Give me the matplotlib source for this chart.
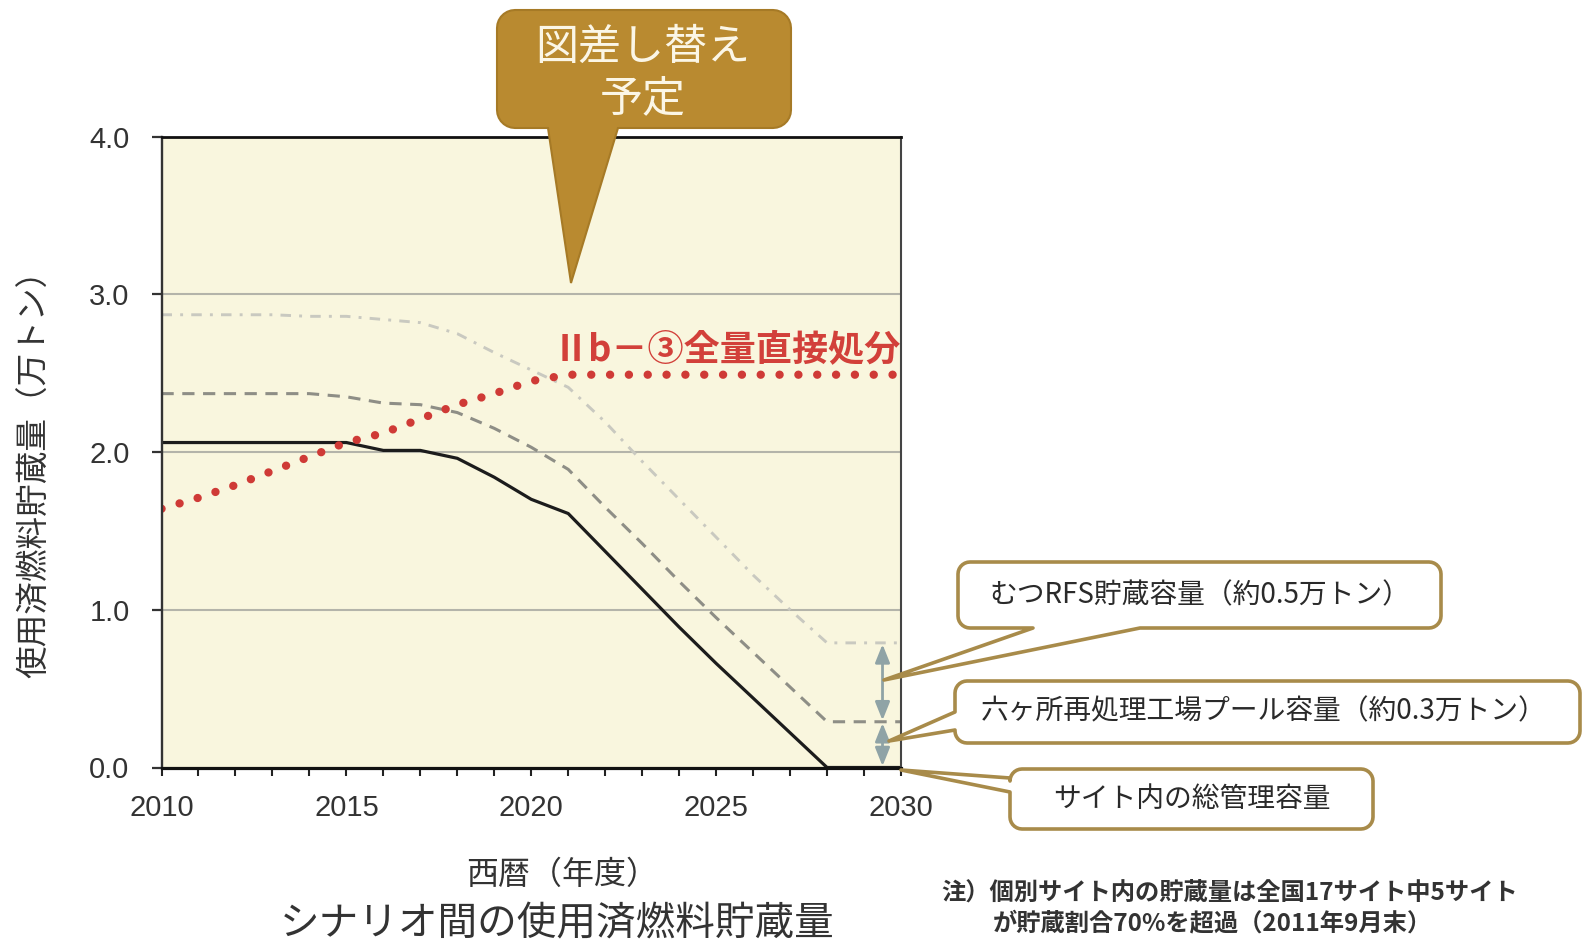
import numpy as np
import matplotlib
matplotlib.use("Agg")
import matplotlib.pyplot as plt
from matplotlib.patches import Polygon

# ---- data (万トン) ----
years = list(range(2010, 2031))
site_capacity = [2.06, 2.06, 2.06, 2.06, 2.06, 2.06, 2.01, 2.01, 1.96, 1.84, 1.70,
                 1.61, 1.37, 1.13, 0.89, 0.66, 0.44, 0.22, 0.00, 0.00, 0.00]
with_rokkasho = [2.37, 2.37, 2.37, 2.37, 2.37, 2.35, 2.31, 2.30, 2.25, 2.15, 2.03,
                 1.89, 1.65, 1.42, 1.18, 0.95, 0.73, 0.51, 0.29, 0.29, 0.29]
with_mutsu = [2.87, 2.87, 2.87, 2.87, 2.86, 2.86, 2.84, 2.82, 2.75, 2.63, 2.52,
              2.41, 2.19, 1.94, 1.70, 1.46, 1.22, 1.00, 0.79, 0.79, 0.79]
direct_disposal = [1.64, 1.71, 1.79, 1.88, 1.97, 2.06, 2.12, 2.21, 2.30, 2.37, 2.45,
                   2.49, 2.49, 2.49, 2.49, 2.49, 2.49, 2.49, 2.49, 2.49, 2.49]
yticks = [0.0, 1.0, 2.0, 3.0, 4.0]
xticks = [2010, 2015, 2020, 2025, 2030]
arrow_year = 2029.5

JP = ['Noto Sans CJK JP', 'DejaVu Sans']
NUM = ['Liberation Sans', 'DejaVu Sans']

W, H = 1582, 952
fig = plt.figure(figsize=(W / 100, H / 100), dpi=100, facecolor='white')


def fx(x):
    return x / W


def fy(y):
    return 1 - y / H


ax = fig.add_axes([fx(161.5), fy(767.5), (901 - 161.5) / W, (767.5 - 136.5) / H])
ax.set_facecolor('#f9f6de')
ax.set_xlim(2010, 2030)
ax.set_ylim(0, 4)

# gridlines
for v in yticks[1:-1]:
    ax.axhline(v, color='#b4b4aa', lw=1.5, zorder=1)

# series
ax.plot(years, with_mutsu, color='#c9c9c0', lw=2.1,
        linestyle=(0, (3.6, 2.8, 1.0, 2.8)), zorder=2)
ax.plot(years, with_rokkasho, color='#8e8e86', lw=2.2,
        linestyle=(0, (4.0, 2.8)), zorder=3)
ax.plot(years, site_capacity, color='#1c1c1c', lw=2.3, zorder=4)
ax.plot(years, direct_disposal, color='#cf3a36', lw=6.0,
        linestyle=(0, (0.01, 2.25)), dash_capstyle='round', zorder=5)

# capacity arrows at the end of the period
lo = site_capacity[-1]
mid = with_rokkasho[-1]
hi = with_mutsu[-1]
arrow_style = dict(arrowstyle='<|-|>,head_length=0.55,head_width=0.22',
                   color='#8fa3a6', lw=2.0, mutation_scale=20,
                   shrinkA=1, shrinkB=1)
ax.annotate('', xy=(arrow_year, mid), xytext=(arrow_year, hi),
            arrowprops=arrow_style, zorder=6)
ax.annotate('', xy=(arrow_year, lo), xytext=(arrow_year, mid),
            arrowprops=arrow_style, zorder=6)

# series label
ax.text(2030, 2.65, 'Ⅱb－③全量直接処分', family=JP, fontsize=26,
        fontweight='bold', color='#d2403a', ha='right', va='center', zorder=7)

# axes styling
ax.set_yticks(yticks)
ax.set_yticklabels([f'{v:.1f}' for v in yticks], family=NUM, fontsize=21,
                   color='#333333')
ax.set_xticks(xticks)
ax.set_xticklabels([str(v) for v in xticks], family=NUM, fontsize=21,
                   color='#333333')
ax.set_xticks(years, minor=True)
ax.tick_params(axis='y', direction='out', length=7, width=1.6, pad=16,
               color='#333333')
ax.tick_params(axis='x', which='both', direction='out', length=6, width=1.5,
               pad=13, color='#222222')
ax.spines['top'].set_color('#111111')
ax.spines['top'].set_linewidth(2.0)
ax.spines['bottom'].set_color('#111111')
ax.spines['bottom'].set_linewidth(2.3)
ax.spines['left'].set_color('#333333')
ax.spines['left'].set_linewidth(1.7)
ax.spines['right'].set_color('#444444')
ax.spines['right'].set_linewidth(1.5)
for s in ax.spines.values():
    s.set_zorder(8)

# axis titles
fig.text(fx(35), fy(466), '使用済燃料貯蔵量（万トン）', family=JP, fontsize=23.5,
         rotation=90, ha='center', va='center', color='#333333')
fig.text(fx(562), fy(875), '西暦（年度）', family=JP, fontsize=23,
         ha='center', va='center', color='#333333')
fig.text(fx(557), fy(924), 'シナリオ間の使用済燃料貯蔵量', family=JP, fontsize=28.5,
         ha='center', va='center', color='#333333')


def callout(x0, y0, x1, y1, r, side, a, b, tip, n=8):
    """Rounded box outline with a wedge on the bottom or left edge (pixels)."""
    def arc(cx, cy, t0, t1):
        t = np.radians(np.linspace(t0, t1, n))
        return [(cx + r * np.cos(v), cy + r * np.sin(v)) for v in t]

    pts = [(x0 + r, y0), (x1 - r, y0)]
    pts += arc(x1 - r, y0 + r, -90, 0)
    pts += [(x1, y1 - r)]
    pts += arc(x1 - r, y1 - r, 0, 90)
    if side == 'bottom':
        pts += [(b, y1), tip, (a, y1)]
    pts += arc(x0 + r, y1 - r, 90, 180)
    if side == 'left':
        pts += [(x0, b), tip, (x0, a)]
    pts += arc(x0 + r, y0 + r, 180, 270)
    return [(fx(px), fy(py)) for px, py in pts]


# heading callout
fig.add_artist(Polygon(callout(497, 10, 791, 128, 18, 'bottom', 548, 618, (571, 283)),
                       closed=True, transform=fig.transFigure,
                       facecolor='#b98a30', edgecolor='#a67a26', lw=1.5, zorder=20))
fig.text(fx(643), fy(48), '図差し替え', family=JP, fontsize=31, color='#fbf6e6',
         ha='center', va='center', zorder=21)
fig.text(fx(643), fy(99), '予定', family=JP, fontsize=31, color='#fbf6e6',
         ha='center', va='center', zorder=21)

# capacity callouts
box_edge = '#a88b4a'
boxes = [
    ((958, 562, 1441, 628, 12, 'bottom', 1033, 1140, (884, 680)),
     'むつRFS貯蔵容量（約0.5万トン）', (1200, 595)),
    ((955, 681, 1580, 743, 12, 'left', 712, 730, (889, 741)),
     '六ヶ所再処理工場プール容量（約0.3万トン）', (1264, 711)),
    ((1010, 769, 1373, 829, 12, 'left', 778, 792, (901, 770)),
     'サイト内の総管理容量', (1192, 799)),
]
for geom, label, (tx, ty) in boxes:
    fig.add_artist(Polygon(callout(*geom), closed=True, transform=fig.transFigure,
                           facecolor='white', edgecolor=box_edge, lw=2.6,
                           joinstyle='round', zorder=20))
    fig.text(fx(tx), fy(ty), label, family=JP, fontsize=20, color='#2a2a2a',
             ha='center', va='center', zorder=21)

# footnote
fig.text(fx(1230), fy(893), '注）個別サイト内の貯蔵量は全国17サイト中5サイト',
         family=JP, fontsize=17.5, fontweight='bold', color='#333333',
         ha='center', va='center')
fig.text(fx(1212), fy(923), 'が貯蔵割合70%を超過（2011年9月末）',
         family=JP, fontsize=17.5, fontweight='bold', color='#333333',
         ha='center', va='center')

fig.savefig('out.png', dpi=100, facecolor='white')
